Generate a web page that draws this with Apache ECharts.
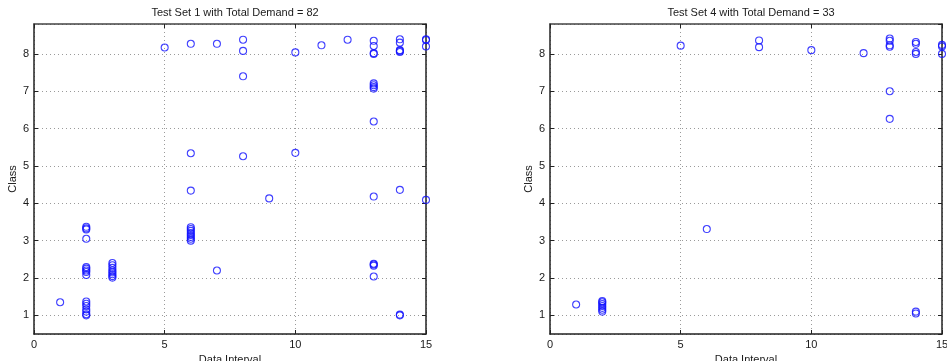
<!DOCTYPE html>
<html>
<head>
<meta charset="utf-8">
<script src="https://cdn.jsdelivr.net/npm/echarts@6/dist/echarts.min.js"></script>
<style>
  html, body { margin: 0; padding: 0; background: #fff; }
  #chart { width: 947px; height: 361px; }
</style>
</head>
<body>
<div id="chart"></div>
<script>
// Test Set 1: data interval (x) and class (y) for each demand sample
const set1Interval = [
  1,
  2, 2, 2, 2, 2, 2, 2,
  2, 2, 2, 2, 2,
  2, 2, 2, 2,
  3, 3, 3, 3, 3, 3, 3, 3,
  5,
  6, 6, 6, 6, 6, 6, 6, 6, 6, 6, 6,
  7, 7,
  8, 8, 8, 8,
  9,
  10, 10,
  11,
  12,
  13, 13, 13, 13, 13, 13, 13, 13, 13, 13, 13, 13, 13, 13,
  14, 14, 14, 14, 14, 14, 14, 14,
  15, 15, 15, 15
];
const set1Class = [
  1.35,
  1.0, 1.03, 1.1, 1.16, 1.25, 1.31, 1.37,
  2.08, 2.16, 2.2, 2.25, 2.29,
  3.05, 3.3, 3.33, 3.37,
  2.01, 2.05, 2.1, 2.15, 2.2, 2.27, 2.34, 2.4,
  8.17,
  8.27, 5.34, 4.34, 3.0, 3.05, 3.1, 3.15, 3.2, 3.26, 3.31, 3.36,
  8.27, 2.2,
  8.38, 8.08, 7.4, 5.26,
  4.13,
  8.04, 5.35,
  8.23,
  8.38,
  8.35, 8.21, 8.0, 8.02, 7.21, 7.16, 7.11, 7.07, 6.19, 4.18, 2.33, 2.36, 2.38, 2.04,
  8.39, 8.3, 8.05, 8.08, 8.1, 4.36, 1.0, 1.02,
  8.37, 8.39, 8.2, 4.09
];

// Test Set 4: data interval (x) and class (y)
const set4Interval = [
  1,
  2, 2, 2, 2, 2, 2, 2,
  5,
  6,
  8, 8,
  10,
  12,
  13, 13, 13, 13, 13, 13,
  14, 14, 14, 14, 14, 14,
  15, 15, 15
];
const set4Class = [
  1.29,
  1.1, 1.15, 1.2, 1.25, 1.3, 1.35, 1.38,
  8.22,
  3.31,
  8.36, 8.18,
  8.1,
  8.02,
  8.41, 8.35, 8.23, 8.19, 7.0, 6.26,
  8.32, 8.27, 8.05, 8.0, 1.1, 1.05,
  8.24, 8.2, 8.0
];

const titles = ['Test Set 1 with Total Demand = 82', 'Test Set 4 with Total Demand = 33'];
const xTicks = [0, 5, 10, 15];
const xName = 'Data Interval';
const yName = 'Class';

const FONT = '"Liberation Sans", Arial, Helvetica, sans-serif';
const TEXT = '#1a1a1a';
const BOX = '#222';
const gridDots = { color: '#9a9a9a', width: 1, type: [1, 3] };

function pairs(xs, ys) {
  return xs.map((x, i) => [x, ys[i]]);
}

const grids = [
  { left: 34, top: 24, width: 392, height: 310, outerBoundsMode: 'none' },
  { left: 550, top: 24, width: 392, height: 310, outerBoundsMode: 'none' }
];

const xAxes = [];
const yAxes = [];
grids.forEach((g, gi) => {
  // bottom x axis with labels and dotted grid
  xAxes.push({
    gridIndex: gi, type: 'value', position: 'bottom',
    min: xTicks[0], max: xTicks[xTicks.length - 1], interval: 5,
    name: xName, nameLocation: 'middle', nameGap: 16,
    nameTextStyle: { fontFamily: FONT, fontSize: 11, color: TEXT },
    axisLine: { show: true, onZero: false, lineStyle: { color: BOX, width: 1.5 } },
    axisTick: { show: true, inside: true, length: 4, lineStyle: { color: BOX } },
    axisLabel: { fontFamily: FONT, fontSize: 11, color: TEXT, margin: 5 },
    splitLine: { show: true, lineStyle: gridDots }
  });
  // top edge of the box
  xAxes.push({
    gridIndex: gi, type: 'value', position: 'top',
    min: xTicks[0], max: xTicks[xTicks.length - 1], interval: 5,
    axisLine: { show: true, onZero: false, lineStyle: { color: '#444', width: 1.5 } },
    axisTick: { show: true, inside: true, length: 4, lineStyle: { color: BOX } },
    axisLabel: { show: false },
    splitLine: { show: false }
  });
  // left y axis; auto ticks land on whole classes between 0.5 and 8.8
  yAxes.push({
    gridIndex: gi, type: 'value', position: 'left',
    min: 0.5, max: 8.8, splitNumber: 8,
    name: yName, nameLocation: 'middle', nameGap: 16, nameRotate: 90,
    nameTextStyle: { fontFamily: FONT, fontSize: 11, color: TEXT },
    axisLine: { show: true, onZero: false, lineStyle: { color: BOX, width: 1.5 } },
    axisTick: { show: true, inside: true, length: 4, lineStyle: { color: BOX } },
    axisLabel: { fontFamily: FONT, fontSize: 11, color: TEXT, margin: 5,
                 showMinLabel: false, showMaxLabel: false },
    splitLine: { show: true, lineStyle: gridDots }
  });
  // right edge of the box
  yAxes.push({
    gridIndex: gi, type: 'value', position: 'right',
    min: 0.5, max: 8.8, splitNumber: 8,
    axisLine: { show: true, onZero: false, lineStyle: { color: BOX, width: 1.5 } },
    axisTick: { show: true, inside: true, length: 4, lineStyle: { color: BOX } },
    axisLabel: { show: false },
    splitLine: { show: false }
  });
});

const marker = {
  type: 'scatter', symbol: 'circle', symbolSize: 7, clip: false,
  itemStyle: { color: 'rgba(0,0,0,0)', borderColor: '#1010ff', borderWidth: 1.1 },
  emphasis: { disabled: true }, silent: true
};

const option = {
  animation: false,
  backgroundColor: '#ffffff',
  title: titles.map((t, i) => ({
    text: t,
    left: grids[i].left + grids[i].width / 2, top: 2,
    textAlign: 'center',
    textStyle: { fontFamily: FONT, fontSize: 11, fontWeight: 'normal', color: TEXT }
  })),
  grid: grids,
  xAxis: xAxes,
  yAxis: yAxes,
  series: [
    Object.assign({}, marker, { xAxisIndex: 0, yAxisIndex: 0, data: pairs(set1Interval, set1Class) }),
    Object.assign({}, marker, { xAxisIndex: 2, yAxisIndex: 2, data: pairs(set4Interval, set4Class) })
  ]
};

echarts.init(document.getElementById('chart'), null, { renderer: 'canvas' }).setOption(option);
</script>
</body>
</html>
